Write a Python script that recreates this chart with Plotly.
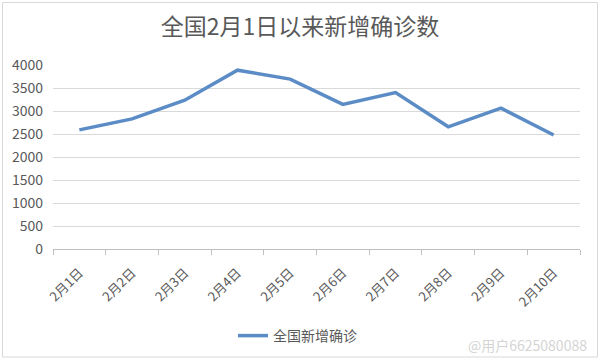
import plotly.graph_objects as go

dates = ["2月1日", "2月2日", "2月3日", "2月4日", "2月5日", "2月6日", "2月7日", "2月8日", "2月9日", "2月10日"]
new_confirmed = [2590, 2829, 3235, 3887, 3694, 3143, 3399, 2656, 3062, 2478]
y_ticks = [0, 500, 1000, 1500, 2000, 2500, 3000, 3500, 4000]

font_family = "Noto Sans CJK SC, Noto Sans, sans-serif"

L, R, T, B = 53, 20, 65, 112
PW, PH = 600 - L - R, 361 - T - B

def px_x(x):
    return (x - L) / PW

def px_y(y):
    return (361 - B - y) / PH

fig = go.Figure()
fig.add_trace(go.Scatter(
    x=dates, y=new_confirmed, mode="lines", name="全国新增确诊",
    line=dict(color="#5B8CC6", width=3.5),
))

fig.update_layout(
    width=600, height=361,
    margin=dict(l=L, r=R, t=T, b=B, autoexpand=False),
    paper_bgcolor="white", plot_bgcolor="white",
    title=dict(text="全国2月1日以来新增确诊数", x=0.5, xanchor="center",
               y=1 - 27/361, yanchor="middle",
               font=dict(family=font_family, size=23, color="#595959")),
    showlegend=True,
    legend=dict(orientation="h", x=px_x(233), xanchor="left", y=px_y(336), yanchor="middle",
                font=dict(family=font_family, size=14, color="#595959"),
                bgcolor="rgba(0,0,0,0)"),
    font=dict(family=font_family, color="#595959"),
)

fig.update_xaxes(
    type="category", range=[-0.5, 9.5], tickangle=-45,
    tickfont=dict(size=13, color="#595959"), automargin=False,
    showgrid=False, showline=True, linecolor="#BFBFBF", linewidth=1,
    ticks="outside", ticklen=5, tickcolor="#BFBFBF", tickson="boundaries",
    zeroline=False, ticklabelstandoff=10,
)
fig.update_yaxes(
    range=[0, 4000], tickvals=y_ticks, tickfont=dict(size=14, color="#595959"),
    showgrid=True, gridcolor="#D9D9D9", gridwidth=1, zeroline=False, automargin=False,
    showline=False, ticks="", ticklabelstandoff=9,
)

# border around the chart
fig.add_shape(type="rect", xref="paper", yref="paper",
              x0=px_x(2.5), x1=px_x(597.5), y0=px_y(357), y1=px_y(2.5),
              line=dict(color="#D9D9D9", width=1))

fig.add_annotation(text="@用户6625080088", xref="paper", yref="paper",
                   x=px_x(589), xanchor="right", y=px_y(345), yanchor="middle",
                   showarrow=False, font=dict(family=font_family, size=14, color="#D4D4D4"))

fig.write_html("out.html")
